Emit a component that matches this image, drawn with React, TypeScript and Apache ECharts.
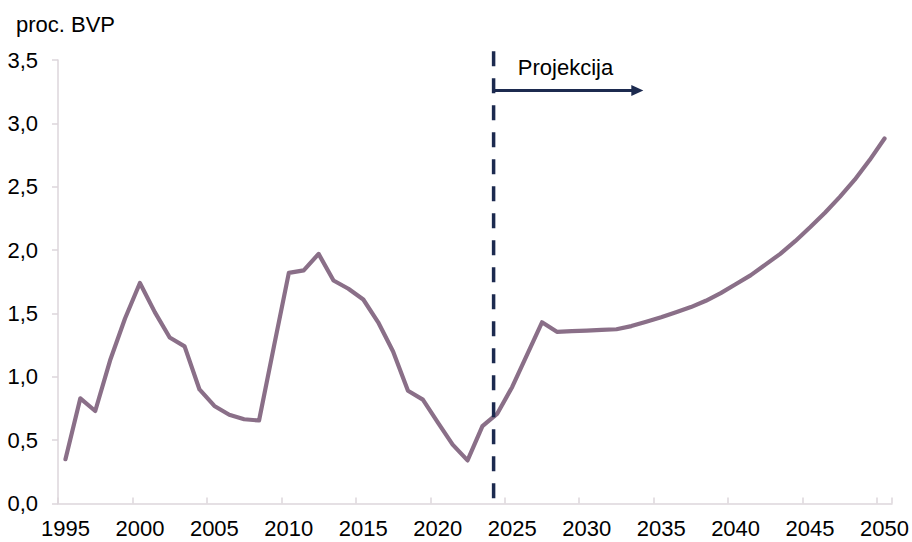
import { useEffect, useRef } from "react";
import * as echarts from "echarts";

// Years on the category axis, 1995–2050
const years: string[] = [];
for (let y = 1995; y <= 2050; y++) years.push(String(y));

// Share of GDP (proc. BVP), actual values followed by the projection
const share: number[] = [
  0.35, 0.83, 0.73, 1.13, 1.46, 1.74, 1.51, 1.31, 1.24, 0.9,
  0.77, 0.7, 0.665, 0.655, 1.24, 1.82, 1.84, 1.97, 1.76, 1.695,
  1.61, 1.43, 1.2, 0.89, 0.82, 0.64, 0.465, 0.34, 0.61, 0.71,
  0.92, 1.175, 1.43, 1.355, 1.36, 1.365, 1.37, 1.375, 1.4, 1.435,
  1.47, 1.51, 1.55, 1.6, 1.66, 1.73, 1.8, 1.885, 1.97, 2.07,
  2.18, 2.295, 2.42, 2.555, 2.71, 2.88,
];

// Projection marker: where the projection starts and how far the arrow reaches
const projectionStart = 2023.75;
const dividerTop = 3.57;
const arrowLevel = 3.26;
const arrowEnd = 2033.4;

const yMin = 0;
const yMax = 3.5;
const yStep = 0.5;

const FONT = "'Liberation Sans', Arial, Helvetica, sans-serif";
const LINE_COLOR = "#8a6f88";
const NAVY = "#1c2a4f";
const AXIS_COLOR = "#ddd6db";

export default function App() {
  const ref = useRef<HTMLDivElement>(null);

  useEffect(() => {
    if (!ref.current) return;
    const chart = echarts.init(ref.current, null, { renderer: "svg" });
    chart.setOption({
      animation: false,
      title: {
        text: "proc. BVP",
        left: 11,
        top: 8,
        textStyle: { fontFamily: FONT, fontSize: 22, fontWeight: "normal", color: "#000" },
      },
      grid: { left: 58, right: 20, top: 60, bottom: 38.5, containLabel: false },
      xAxis: [
        {
          type: "category",
          data: years,
          boundaryGap: true,
          axisLine: { lineStyle: { color: AXIS_COLOR, width: 1.5 } },
          axisTick: {
            show: true,
            inside: true,
            length: 6,
            interval: 4,
            alignWithLabel: false,
            lineStyle: { color: AXIS_COLOR, width: 1.5 },
          },
          axisLabel: { interval: 4, margin: 14, fontFamily: FONT, fontSize: 22, color: "#000" },
          splitLine: { show: false },
        },
        // continuous year scale for the projection marker
        { type: "value", min: 1994.5, max: 2050.5, show: false },
      ],
      yAxis: {
        type: "value",
        min: yMin,
        max: yMax,
        interval: yStep,
        axisLine: { show: true, lineStyle: { color: AXIS_COLOR, width: 1.5 } },
        axisTick: { show: true, inside: false, length: 6, lineStyle: { color: AXIS_COLOR, width: 1.5 } },
        axisLabel: {
          margin: 20,
          fontFamily: FONT,
          fontSize: 22,
          color: "#000",
          formatter: (v: number) => v.toFixed(1).replace(".", ","),
        },
        splitLine: { show: false },
      },
      series: [
        {
          type: "line",
          data: share,
          xAxisIndex: 0,
          symbol: "none",
          silent: true,
          lineStyle: { color: LINE_COLOR, width: 4.2, cap: "round", join: "round" },
          itemStyle: { color: LINE_COLOR },
          z: 3,
        },
        {
          type: "line",
          xAxisIndex: 1,
          data: [],
          clip: false,
          silent: true,
          z: 4,
          markLine: {
            silent: true,
            animation: false,
            symbol: "none",
            label: { show: false },
            data: [
              [
                {
                  coord: [projectionStart, arrowLevel],
                  symbol: "none",
                  lineStyle: { color: NAVY, width: 3, type: "solid" },
                  label: {
                    show: true,
                    position: "middle",
                    formatter: "Projekcija",
                    distance: 12,
                    fontFamily: FONT,
                    fontSize: 22,
                    color: "#000",
                  },
                },
                {
                  coord: [arrowEnd, arrowLevel],
                  symbol: "triangle",
                  symbolSize: [11, 12],
                },
              ],
            ],
          },
        },
      ],
    });

    // Dashed divider at the start of the projection; it rises a little above
    // the top of the value axis, so it is placed through the axes' own scales.
    const top = chart.convertToPixel({ xAxisIndex: 1, yAxisIndex: 0 }, [projectionStart, dividerTop]) as number[];
    const bottom = chart.convertToPixel({ xAxisIndex: 1, yAxisIndex: 0 }, [projectionStart, yMin]) as number[];
    chart.setOption({
      graphic: [
        {
          type: "line",
          silent: true,
          z: 10,
          shape: { x1: top[0], y1: top[1], x2: bottom[0], y2: bottom[1] },
          style: { stroke: NAVY, lineWidth: 3.5, lineDash: [15, 12], lineCap: "butt" },
        },
      ],
    });

    return () => chart.dispose();
  }, []);

  return (
    <div
      ref={ref}
      style={{ position: "absolute", left: 0, top: 0, width: 912, height: 542, background: "#fff" }}
    />
  );
}
